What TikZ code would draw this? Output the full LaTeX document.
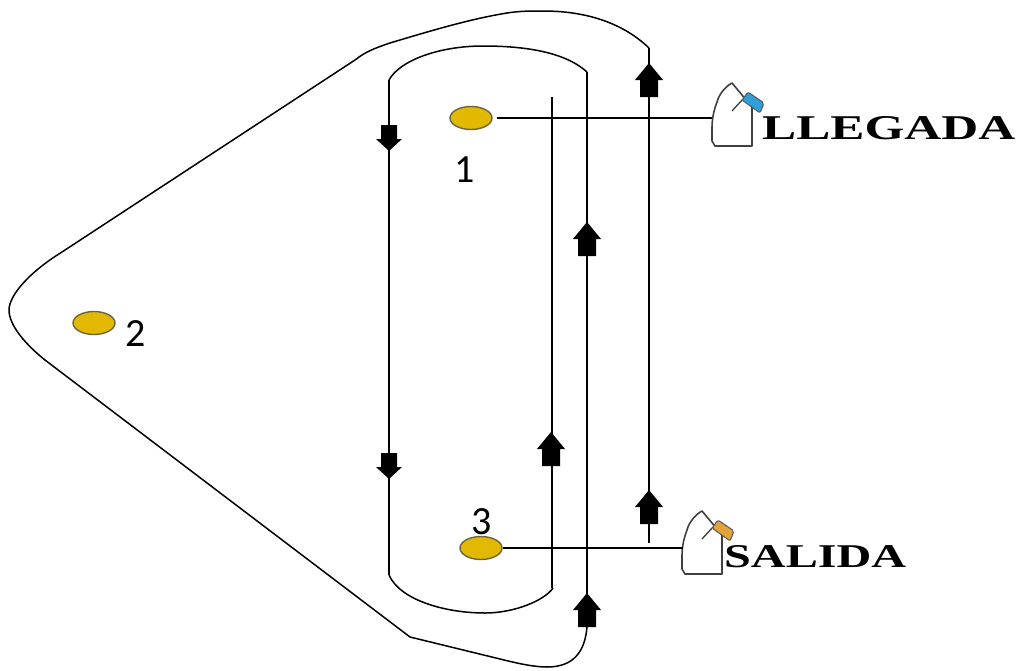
\documentclass[tikz,border=0pt]{standalone}
\usepackage{fontspec}
\usepackage{graphicx}
\setmainfont{Liberation Serif}
\newfontfamily\numfont{Carlito}
\usetikzlibrary{shapes.geometric}
\definecolor{markgold}{HTML}{E2B900}
\definecolor{markedge}{HTML}{6B6440}
\definecolor{flagblue}{HTML}{2F9FD8}
\definecolor{flagorange}{HTML}{E2A23C}
\tikzset{
  x=1pt,y=-1pt,
  course/.style={line width=1.5pt,black,line join=round},
  leg/.style={line width=2pt,black},
  link/.style={line width=1.5pt,black},
  buoy/.style={ellipse,draw=markedge,line width=1.4pt,fill=markgold,minimum width=42pt,minimum height=23pt,inner sep=0pt},
  digit/.style={font=\numfont\fontsize{40}{40}\selectfont,inner sep=0pt,text=black},
  boatword/.style={font=\bfseries,inner sep=0pt,anchor=west,text=black},
  pics/uparrow/.style={code={\fill[black] (0,0)--(14,17)--(9,17)--(9,34)--(-9,34)--(-9,17)--(-14,17)--cycle;}},
  pics/downarrow/.style={code={\fill[black] (0,0)--(13,-12)--(8,-12)--(8,-26)--(-8,-26)--(-8,-12)--(-13,-12)--cycle;}},
  pics/boat/.style={code={
    \draw[line width=1.6pt,black!75,line join=round] (-17,63) -- (20,63) -- (20,24)
      -- (0,0)
      .. controls (-6,3) and (-13,11) .. (-15,19)
      .. controls (-18,27) and (-20,35) .. (-20,45)
      -- (-20,58) -- cycle;
    \draw[line width=1.2pt,black!80] (0,28) -- (11,16);
    \fill[#1,draw=black!65,line width=1pt,rounded corners=2pt] (10,17) -- (16,9) -- (32,20) -- (28,30) -- cycle;
  }}
}
\begin{document}
\begin{tikzpicture}
\useasboundingbox (0,0) rectangle (1017,670);
\fill[white] (0,0) rectangle (1017,670);

% outer course
\draw[course] (587,627) .. controls (585,650) and (575,667) .. (547,667)
  .. controls (535,667) and (520,664) .. (500,659)
  -- (410,637) -- (45,360)
  .. controls (25,344) and (9,325) .. (9,310)
  .. controls (9,296) and (28,273) .. (62,252)
  -- (355,60)
  .. controls (365,52) and (375,48) .. (390,43)
  .. controls (430,31) and (470,19) .. (507,13)
  .. controls (520,11) and (530,11) .. (543,11)
  .. controls (590,11) and (625,25) .. (649,48);
% main upward leg on the right
\draw[leg] (649,48) -- (649,543);
% inner course
\draw[leg] (587,627) -- (587,72);
\draw[course] (587,72) .. controls (565,52) and (525,46) .. (483,46)
  .. controls (440,46) and (400,60) .. (389,80);
\draw[leg] (389,80) -- (389,575);
\draw[course] (389,575) .. controls (400,600) and (445,613) .. (485,613)
  .. controls (515,613) and (545,600) .. (553,588);
\draw[leg] (552,588) -- (552,97);

% arrowheads
\pic at (649,63) {uparrow};
\pic at (649,490) {uparrow};
\pic at (587,222) {uparrow};
\pic at (587,593) {uparrow};
\pic at (551,432) {uparrow};
\pic at (389,151) {downarrow};
\pic at (389,479) {downarrow};

% boats
\coordinate (boatA) at (712,118);
\coordinate (boatB) at (683,548);
\pic at (732,83) {boat=flagblue};
\pic at (702,511) {boat=flagorange};

% buoys
\node[buoy] (m1) at (471,118) {};
\node[buoy] (m2) at (94,323) {};
\node[buoy] (m3) at (481,548) {};
\draw[link] (m1.east) ++(4,0) coordinate (m1out) -- (boatA);
\draw[link] (m3.east) -- (boatB);

% numbers
\node[digit] (n1) at (465,170) {1};
\node[digit] (n2) at (136,334) {2};
\node[digit] (n3) at (482,522) {3};

% words
\node[boatword] (llegada) at (762,128) {\resizebox{253pt}{23pt}{LLEGADA}};
\node[boatword] (salida) at (724,557) {\resizebox{182pt}{22pt}{SALIDA}};
\end{tikzpicture}
\end{document}
